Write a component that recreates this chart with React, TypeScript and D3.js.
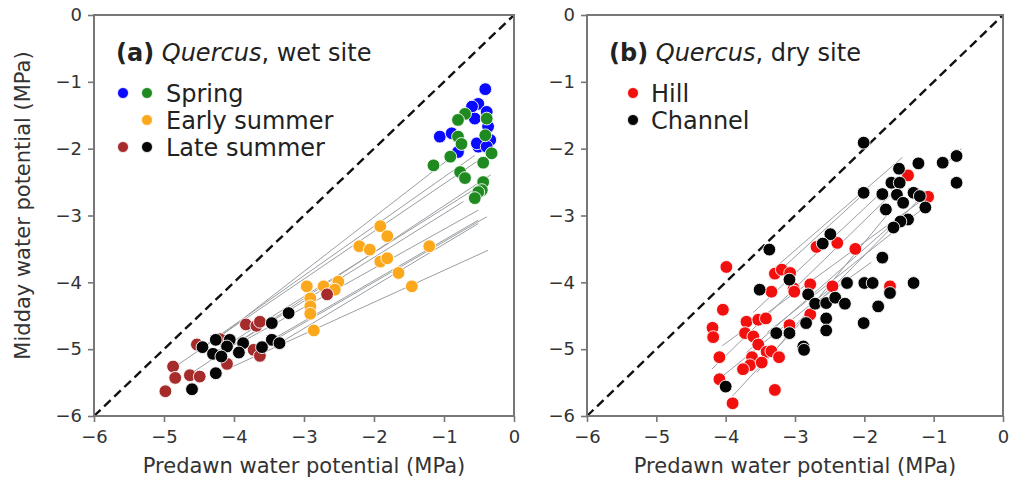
import { useEffect, useRef } from 'react'
import * as d3 from 'd3'

type Pt = [number, number]
type Seg = [number, number, number, number]

// panel (a) Quercus, wet site
const springBlue: Pt[] = [
  [-0.41, -1.11], [-0.51, -1.33], [-0.6, -1.37], [-0.39, -1.45], [-0.56, -1.55],
  [-0.37, -1.67], [-1.06, -1.82], [-0.89, -1.77], [-0.51, -1.97], [-0.34, -1.87],
  [-0.8, -2.05], [-0.53, -1.92], [-0.39, -1.97],
]
const springGreen: Pt[] = [
  [-0.7, -1.48], [-0.8, -1.57], [-0.39, -1.55], [-0.41, -1.8], [-0.8, -1.82],
  [-0.75, -1.93], [-0.91, -2.12], [-1.15, -2.25], [-0.32, -2.07], [-0.44, -2.21],
  [-0.77, -2.35], [-0.7, -2.44], [-0.44, -2.5], [-0.46, -2.62], [-0.51, -2.65],
  [-0.56, -2.74],
]
const earlySummer: Pt[] = [
  [-1.91, -3.16], [-1.81, -3.31], [-2.21, -3.46], [-2.06, -3.51], [-1.21, -3.46],
  [-1.91, -3.69], [-1.81, -3.64], [-1.65, -3.86], [-1.46, -4.06], [-2.96, -4.06],
  [-2.72, -4.06], [-2.51, -3.99], [-2.56, -4.11], [-2.91, -4.24], [-2.91, -4.36],
  [-2.91, -4.47], [-2.86, -4.72],
]
const lateBrown: Pt[] = [
  [-2.67, -4.18], [-3.83, -4.63], [-3.68, -4.65], [-3.63, -4.59], [-4.53, -4.93],
  [-3.72, -5.01], [-3.63, -5.1], [-4.1, -5.22], [-4.87, -5.26], [-4.84, -5.43],
  [-4.63, -5.39], [-4.49, -5.41], [-4.98, -5.63], [-4.2, -4.85],
]
const lateBlack: Pt[] = [
  [-3.22, -4.46], [-3.46, -4.61], [-4.26, -4.86], [-4.06, -4.86], [-4.45, -4.97],
  [-4.1, -4.96], [-3.87, -4.91], [-3.46, -4.86], [-3.35, -4.91], [-3.6, -4.97],
  [-4.3, -5.07], [-4.18, -5.11], [-3.93, -5.05], [-4.26, -5.36], [-4.6, -5.6],
]
const wetLines: Seg[] = [
  [-4.84, -5.26, -0.43, -2.12],
  [-4.58, -5.34, -0.33, -2.39],
  [-4.3, -5.07, -0.51, -2.57],
  [-4.1, -5.0, -0.72, -2.79],
  [-3.9, -4.9, -0.51, -2.92],
  [-3.6, -4.97, -0.39, -3.02],
  [-3.46, -4.86, -0.51, -3.07],
  [-3.35, -4.91, -0.51, -3.12],
  [-4.1, -5.3, -0.37, -3.52],
  [-4.45, -4.97, -0.56, -2.1],
  [-4.26, -4.86, -0.8, -2.05],
]

// panel (b) Quercus, dry site
const hill: Pt[] = [
  [-3.99, -3.77], [-1.37, -2.4], [-1.08, -2.72], [-2.69, -3.47], [-2.39, -3.41],
  [-2.13, -3.5], [-3.29, -3.87], [-3.19, -3.81], [-3.07, -3.86], [-3.34, -4.14],
  [-3.02, -4.09], [-3.01, -4.14], [-2.78, -4.03], [-2.46, -4.06], [-1.63, -4.06],
  [-4.04, -4.41], [-3.7, -4.59], [-3.53, -4.56], [-3.42, -4.54], [-2.78, -4.48],
  [-3.08, -4.64], [-4.19, -4.68], [-4.18, -4.82], [-3.72, -4.76], [-3.6, -4.81],
  [-3.53, -4.93], [-3.41, -5.04], [-3.34, -5.03], [-3.23, -5.12], [-3.62, -5.12],
  [-4.09, -5.12], [-3.65, -5.24], [-3.48, -5.2], [-3.75, -5.3], [-4.09, -5.45],
  [-3.29, -5.61], [-3.9, -5.81],
]
const channel: Pt[] = [
  [-2.01, -1.91], [-0.67, -2.11], [-0.87, -2.21], [-1.22, -2.22], [-1.5, -2.3],
  [-0.67, -2.51], [-1.61, -2.51], [-1.49, -2.51], [-2.01, -2.66], [-1.74, -2.68],
  [-1.53, -2.69], [-1.29, -2.66], [-1.2, -2.71], [-1.44, -2.81], [-1.69, -2.91],
  [-1.12, -2.88], [-1.37, -3.06], [-1.48, -3.09], [-1.58, -3.18], [-2.49, -3.28],
  [-2.6, -3.42], [-3.37, -3.51], [-1.74, -3.63], [-3.08, -3.96], [-3.51, -4.11],
  [-2.25, -4.01], [-2.0, -4.01], [-1.88, -4.01], [-1.29, -4.01], [-1.63, -4.16],
  [-2.81, -4.18], [-2.71, -4.32], [-2.55, -4.31], [-2.42, -4.23], [-2.28, -4.32],
  [-1.8, -4.36], [-2.55, -4.54], [-2.84, -4.61], [-2.01, -4.61], [-3.08, -4.76],
  [-3.27, -4.76], [-2.55, -4.72], [-2.88, -4.96], [-2.87, -5.01], [-4.0, -5.56],
]
const dryLines: Seg[] = [
  [-3.31, -3.8, -1.45, -2.13],
  [-3.35, -3.95, -1.95, -2.62],
  [-4.05, -4.95, -1.1, -2.72],
  [-4.2, -5.3, -1.55, -2.62],
  [-3.9, -5.7, -2.65, -4.3],
  [-3.55, -5.35, -1.6, -2.9],
  [-3.7, -5.05, -1.4, -2.95],
  [-3.4, -4.75, -1.1, -2.85],
  [-2.9, -4.55, -1.2, -2.75],
  [-0.85, -2.25, -0.6, -2.0],
  [-2.7, -4.3, -1.9, -3.7],
  [-3.6, -4.45, -1.75, -2.65],
  [-4.1, -5.45, -2.5, -4.1],
]

const ticks = [-6, -5, -4, -3, -2, -1, 0]

interface Series {
  points: Pt[]
  color: string
}

interface LegendRow {
  colors: string[]
  label: string
}

interface PanelSpec {
  left: number
  right: number
  tag: string
  site: string
  series: Series[]
  lines: Seg[]
  legend: LegendRow[]
  showYLabel: boolean
}

const BLUE = '#0a0aff'
const GREEN = '#1f8a1f'
const ORANGE = '#fca81c'
const BROWN = '#a62b2b'
const BLACK = '#050505'
const RED = '#f2100f'

const panels: PanelSpec[] = [
  {
    left: 94,
    right: 514,
    tag: '(a)',
    site: ', wet site',
    series: [
      { points: springBlue, color: BLUE },
      { points: springGreen, color: GREEN },
      { points: earlySummer, color: ORANGE },
      { points: lateBrown, color: BROWN },
      { points: lateBlack, color: BLACK },
    ],
    lines: wetLines,
    legend: [
      { colors: [BLUE, GREEN], label: 'Spring' },
      { colors: ['', ORANGE], label: 'Early summer' },
      { colors: [BROWN, BLACK], label: 'Late summer' },
    ],
    showYLabel: true,
  },
  {
    left: 587,
    right: 1003,
    tag: '(b)',
    site: ', dry site',
    series: [
      { points: hill, color: RED },
      { points: channel, color: BLACK },
    ],
    lines: dryLines,
    legend: [
      { colors: [RED], label: 'Hill' },
      { colors: [BLACK], label: 'Channel' },
    ],
    showYLabel: false,
  },
]

const TOP = 15
const BOTTOM = 416
const FONT = 'DejaVu Sans, sans-serif'

export default function App() {
  const svgRef = useRef<SVGSVGElement | null>(null)

  useEffect(() => {
    if (!svgRef.current) {
      return
    }
    const svg = d3.select(svgRef.current)
    svg.selectAll('*').remove()

    svg.append('rect').attr('width', 1009).attr('height', 480).attr('fill', '#fff')

    const y = d3.scaleLinear().domain([-6, 0]).range([BOTTOM, TOP])

    panels.forEach((panel) => {
      const x = d3.scaleLinear().domain([-6, 0]).range([panel.left, panel.right])
      const g = svg.append('g')

      // 1:1 line
      g.append('line')
        .attr('x1', x(-6))
        .attr('y1', y(-6))
        .attr('x2', x(0))
        .attr('y2', y(0))
        .attr('stroke', '#111')
        .attr('stroke-width', 2.4)
        .attr('stroke-dasharray', '9,5')

      g.selectAll('line.pair')
        .data(panel.lines)
        .enter()
        .append('line')
        .attr('class', 'pair')
        .attr('x1', (d: Seg) => x(d[0]))
        .attr('y1', (d: Seg) => y(d[1]))
        .attr('x2', (d: Seg) => x(d[2]))
        .attr('y2', (d: Seg) => y(d[3]))
        .attr('stroke', '#9a9ea2')
        .attr('stroke-width', 1)

      panel.series.forEach((s) => {
        g.append('g')
          .selectAll('circle')
          .data(s.points)
          .enter()
          .append('circle')
          .attr('cx', (d: Pt) => x(d[0]))
          .attr('cy', (d: Pt) => y(d[1]))
          .attr('r', 6.4)
          .attr('fill', s.color)
          .attr('stroke', '#fff')
          .attr('stroke-width', 0.9)
      })

      // frame
      g.append('rect')
        .attr('x', panel.left)
        .attr('y', TOP)
        .attr('width', panel.right - panel.left)
        .attr('height', BOTTOM - TOP)
        .attr('fill', 'none')
        .attr('stroke', '#777')
        .attr('stroke-width', 2)

      const fmt = (d: d3.NumberValue) => String(d).replace('-', '−')
      const xAxis = g
        .append('g')
        .attr('transform', `translate(0, ${BOTTOM})`)
        .call(d3.axisBottom(x).tickValues(ticks).tickSize(6).tickPadding(8).tickFormat(fmt))
      const yAxis = g
        .append('g')
        .attr('transform', `translate(${panel.left}, 0)`)
        .call(d3.axisLeft(y).tickValues(ticks).tickSize(6).tickPadding(6).tickFormat(fmt))
      ;[xAxis, yAxis].forEach((axis) => {
        axis.select('.domain').remove()
        axis.selectAll('line').attr('stroke', '#777').attr('stroke-width', 1.6)
        axis
          .selectAll('text')
          .attr('fill', '#333')
          .attr('font-size', 18)
          .attr('font-family', FONT)
      })

      const cx = (panel.left + panel.right) / 2
      g.append('text')
        .attr('x', cx)
        .attr('y', 473)
        .attr('text-anchor', 'middle')
        .attr('font-size', 21)
        .attr('font-family', FONT)
        .attr('fill', '#333')
        .text('Predawn water potential (MPa)')

      if (panel.showYLabel) {
        g.append('text')
          .attr('transform', `translate(30, ${(TOP + BOTTOM) / 2 - 10}) rotate(-90)`)
          .attr('text-anchor', 'middle')
          .attr('font-size', 21)
          .attr('font-family', FONT)
          .attr('fill', '#333')
          .text('Midday water potential (MPa)')
      }

      // title
      const title = g
        .append('text')
        .attr('x', panel.left + 22)
        .attr('y', 61)
        .attr('font-size', 24)
        .attr('font-family', FONT)
        .attr('fill', '#222')
      title.append('tspan').attr('font-weight', 'bold').text(panel.tag)
      title.append('tspan').attr('font-style', 'italic').text(' Quercus')
      title.append('tspan').text(panel.site)

      // legend
      const legend = g.append('g')
      const singleCol = panel.legend.every((row) => row.colors.length === 1)
      panel.legend.forEach((row, i) => {
        const rowY = 93 + i * 27
        const markerXs = singleCol ? [panel.left + 46] : [panel.left + 29, panel.left + 53]
        row.colors.forEach((color, j) => {
          if (!color) {
            return
          }
          legend
            .append('circle')
            .attr('cx', markerXs[j])
            .attr('cy', rowY)
            .attr('r', 5.5)
            .attr('fill', color)
            .attr('stroke', '#fff')
            .attr('stroke-width', 0.8)
        })
        legend
          .append('text')
          .attr('x', singleCol ? panel.left + 64 : panel.left + 72)
          .attr('y', rowY + 8.5)
          .attr('font-size', 24)
          .attr('font-family', FONT)
          .attr('fill', '#222')
          .text(row.label)
      })
    })
  }, [])

  return (
    <svg
      ref={svgRef}
      width={1009}
      height={480}
      style={{ position: 'absolute', left: 0, top: 0 }}
      role="img"
      aria-label="Predawn vs midday water potential for Quercus at wet and dry sites"
    />
  )
}
